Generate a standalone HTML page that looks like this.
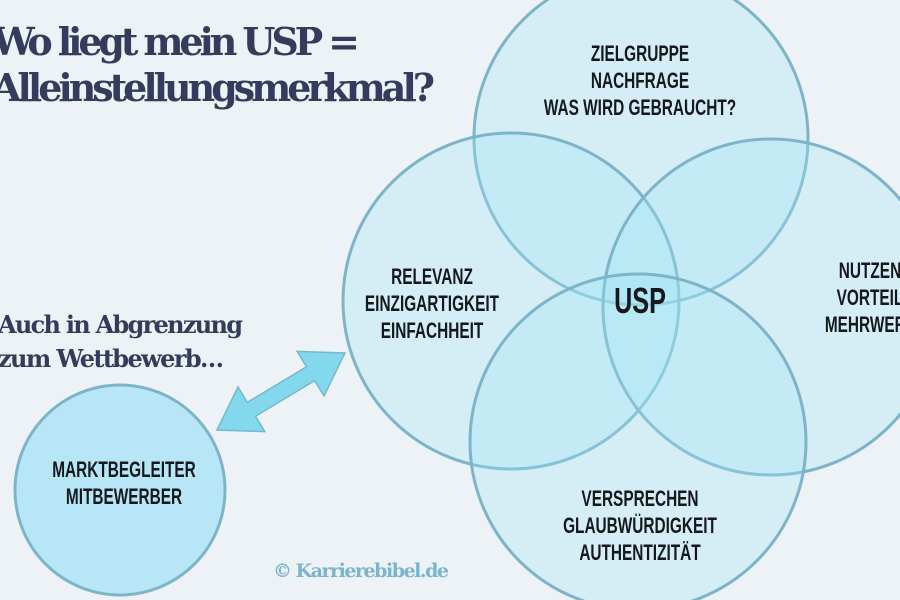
<!DOCTYPE html>
<html><head><meta charset="utf-8"><style>
html,body{margin:0;padding:0;background:#ecf2f5;}
svg{display:block}
.t{font-family:"DejaVu Serif","Liberation Serif",serif;font-weight:bold;fill:#343b5c}
.l{font-family:"Liberation Sans Narrow","Liberation Sans",sans-serif;font-weight:bold;fill:#15181c;font-size:22px}
</style></head><body>
<svg width="900" height="600" viewBox="0 0 900 600" xmlns="http://www.w3.org/2000/svg">
<rect width="900" height="600" fill="#ecf2f5"/>
<g fill="rgba(160,228,245,0.3)" stroke="#7db4c9" stroke-width="3">
<circle cx="641" cy="138" r="167"/>
<circle cx="511" cy="301" r="168"/>
<circle cx="771" cy="307" r="168"/>
<circle cx="638" cy="442" r="168"/>
<circle cx="120" cy="490" r="105" fill="#b7e7f6"/>
</g>
<polygon points="217,430 238,387 247.3,402.4 306.5,366.8 297.2,351.4 345,353 324,396 314.7,380.6 255.5,416.2 264.8,431.6" fill="#84d8ee" stroke="#76b8cc" stroke-width="1.5"/>
<text class="t" font-size="38" x="-8" y="55" textLength="368">Wo liegt mein USP =</text>
<text class="t" font-size="38" x="-8" y="101" textLength="443">Alleinstellungsmerkmal?</text>
<text class="t" font-size="24" x="-2" y="333" textLength="245">Auch in Abgrenzung</text>
<text class="t" font-size="24" x="-2" y="367" textLength="226">zum Wettbewerb…</text>
<g class="l" text-anchor="middle">
<text x="640" y="61" transform="translate(640 0) scale(0.7 1) translate(-640 0)">ZIELGRUPPE</text>
<text x="640" y="88" transform="translate(640 0) scale(0.7 1) translate(-640 0)">NACHFRAGE</text>
<text x="640" y="115" transform="translate(640 0) scale(0.7 1) translate(-640 0)">WAS WIRD GEBRAUCHT?</text>
<text x="432" y="284" transform="translate(432 0) scale(0.7 1) translate(-432 0)">RELEVANZ</text>
<text x="432" y="311" transform="translate(432 0) scale(0.7 1) translate(-432 0)">EINZIGARTIGKEIT</text>
<text x="432" y="338" transform="translate(432 0) scale(0.7 1) translate(-432 0)">EINFACHHEIT</text>
<text x="870" y="278" transform="translate(870 0) scale(0.7 1) translate(-870 0)">NUTZEN</text>
<text x="870" y="305" transform="translate(870 0) scale(0.7 1) translate(-870 0)">VORTEIL</text>
<text x="870" y="332" transform="translate(870 0) scale(0.7 1) translate(-870 0)">MEHRWERT</text>
<text x="640" y="506" transform="translate(640 0) scale(0.7 1) translate(-640 0)">VERSPRECHEN</text>
<text x="640" y="533" transform="translate(640 0) scale(0.7 1) translate(-640 0)">GLAUBWÜRDIGKEIT</text>
<text x="640" y="560" transform="translate(640 0) scale(0.7 1) translate(-640 0)">AUTHENTIZITÄT</text>
<text x="124" y="477" transform="translate(124 0) scale(0.7 1) translate(-124 0)">MARKTBEGLEITER</text>
<text x="124" y="504" transform="translate(124 0) scale(0.7 1) translate(-124 0)">MITBEWERBER</text>
<text x="640" y="313" font-size="36" transform="translate(640 0) scale(0.7 1) translate(-640 0)">USP</text>
</g>
<text x="273" y="577" font-family="DejaVu Serif,serif" font-weight="bold" font-size="19" fill="#7ab4cd" textLength="176">© Karrierebibel.de</text>
</svg>
</body></html>
